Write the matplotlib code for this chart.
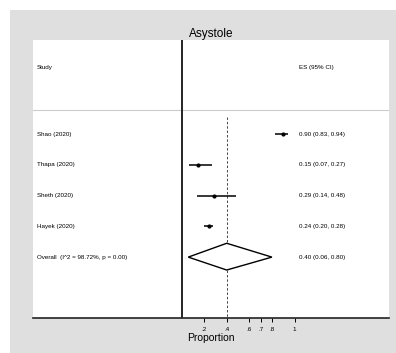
import matplotlib
matplotlib.use("Agg")
import matplotlib.pyplot as plt
from matplotlib.patches import Rectangle, Polygon

studies = ["Shao (2020)", "Thapa (2020)", "Sheth (2020)", "Hayek (2020)"]
es = [0.90, 0.15, 0.29, 0.24]
lo = [0.83, 0.07, 0.14, 0.20]
hi = [0.94, 0.27, 0.48, 0.28]
overall_label = "Overall  (I^2 = 98.72%, p = 0.00)"
overall = [0.40, 0.06, 0.80]
xticks = [0.2, 0.4, 0.6, 0.7, 0.8, 1.0]
xticklabels = [".2", ".4", ".6", ".7", ".8", "1"]

W, H = 396, 353
fig = plt.figure(figsize=(W / 100, H / 100), dpi=100, facecolor="white")
bg = fig.add_axes([10 / W, 0, 1 - 10 / W, 1 - 10 / H], zorder=-5)
bg.set_facecolor("#dfdfdf")
bg.set_axis_off()
bg.add_patch(Rectangle((0, 0), 1, 1, transform=bg.transAxes, facecolor="#dfdfdf", edgecolor="none"))

L, R, T, B = 33, 389, 40, 318
ax = fig.add_axes([L / W, 1 - B / H, (R - L) / W, (B - T) / H], zorder=1)
ax.set_facecolor("white")

x0px, scale = 181.5, 113.0
ax.set_xlim((L - x0px) / scale, (R - x0px) / scale)
ax.set_ylim(5.98, -3.06)

narrow = ["Liberation Sans Narrow", "Liberation Sans", "DejaVu Sans"]
fs = 4.5
lx = (37 - x0px) / scale
rx = (299 - x0px) / scale

ax.text(lx, -2.15, "Study", fontsize=fs, family=narrow, va="center", ha="left")
ax.text(rx, -2.15, "ES (95% CI)", fontsize=fs, family=narrow, va="center", ha="left")
ax.axhline(-0.78, color="#cccccc", lw=0.8)
ax.axvline(0, color="black", lw=1.2)
ax.plot([overall[0], overall[0]], [-0.55, 5.98], color="#444444", lw=0.7, ls=(0, (2.5, 2)))

for i, (s, e, l, h) in enumerate(zip(studies, es, lo, hi)):
    ax.plot([l, h], [i, i], color="black", lw=1.1, solid_capstyle="butt")
    ax.plot([e], [i], marker="o", ms=2.0, color="black")
    ax.text(lx, i, s, fontsize=fs, family=narrow, va="center", ha="left")
    ax.text(rx, i, f"{e:.2f} ({l:.2f}, {h:.2f})", fontsize=fs, family=narrow, va="center", ha="left")

yo = len(studies)
ax.add_patch(Polygon([(overall[1], yo), (overall[0], yo - 0.45), (overall[2], yo), (overall[0], yo + 0.42)],
                     closed=True, facecolor="white", edgecolor="black", lw=1.0, zorder=3))
ax.text(lx, yo, overall_label, fontsize=fs, family=narrow, va="center", ha="left")
ax.text(rx, yo, f"{overall[0]:.2f} ({overall[1]:.2f}, {overall[2]:.2f})", fontsize=fs, family=narrow,
        va="center", ha="left")

for sp in ["top", "right", "left"]:
    ax.spines[sp].set_visible(False)
ax.spines["bottom"].set_color("#222222")
ax.spines["bottom"].set_linewidth(1.2)
ax.set_yticks([])
ax.set_xticks(xticks)
ax.set_xticklabels(xticklabels, fontsize=4.5, family=narrow)
ax.tick_params(axis="x", length=3, width=0.7, pad=3.5)
ax.set_xlabel("Proportion", fontsize=7.5, family=narrow, labelpad=0.5)
ax.set_title("Asystole", fontsize=8.5, family=["Liberation Sans", "DejaVu Sans"], pad=1.5)

fig.savefig("out.png", dpi=100, facecolor="white")
